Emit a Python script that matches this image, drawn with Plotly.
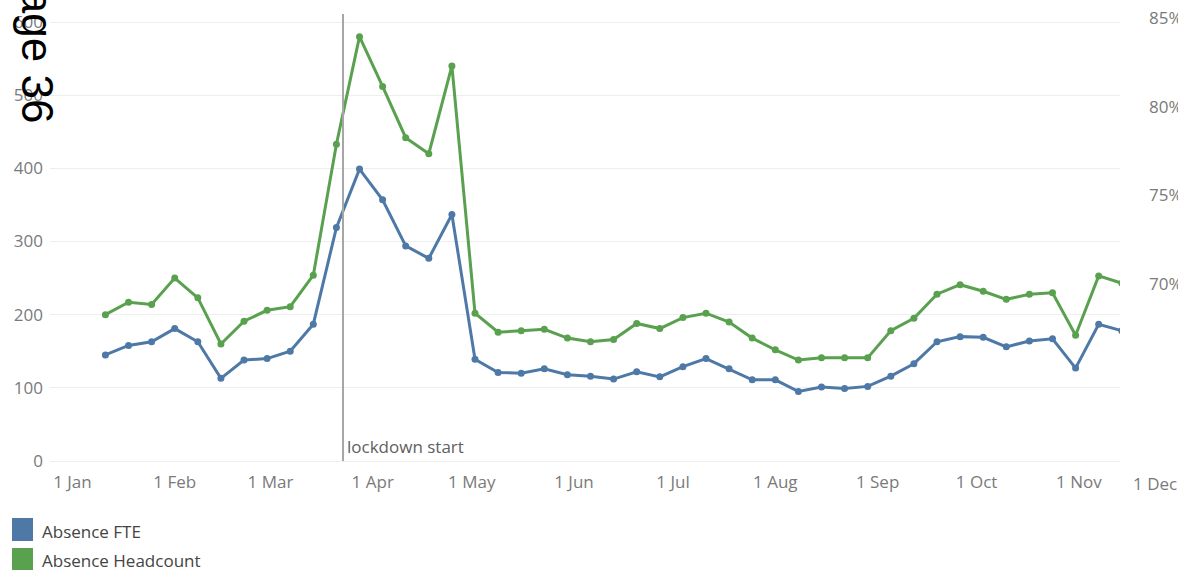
import plotly.graph_objects as go

# ---- data ----
week_dates = [
    "2020-01-11", "2020-01-18", "2020-01-25", "2020-02-01", "2020-02-08", "2020-02-15",
    "2020-02-22", "2020-02-29", "2020-03-07", "2020-03-14", "2020-03-21", "2020-03-28",
    "2020-04-04", "2020-04-11", "2020-04-18", "2020-04-25", "2020-05-02", "2020-05-09",
    "2020-05-16", "2020-05-23", "2020-05-30", "2020-06-06", "2020-06-13", "2020-06-20",
    "2020-06-27", "2020-07-04", "2020-07-11", "2020-07-18", "2020-07-25", "2020-08-01",
    "2020-08-08", "2020-08-15", "2020-08-22", "2020-08-29", "2020-09-05", "2020-09-12",
    "2020-09-19", "2020-09-26", "2020-10-03", "2020-10-10", "2020-10-17", "2020-10-24",
    "2020-10-31", "2020-11-07", "2020-11-14",
]
absence_fte = [
    145, 158, 163, 181, 163, 113, 138, 140, 150, 187,
    319, 399, 357, 294, 277, 337,
    139, 121, 120, 126, 118, 116, 112, 122, 115, 129, 140, 126, 111,
    111, 95, 101, 99, 102, 116, 133, 163, 170, 169, 156, 164, 167, 127, 187, 178,
]
absence_headcount = [
    200, 217, 214, 250, 223, 160, 191, 206, 211, 254,
    433, 580, 512, 442, 420, 540,
    202, 176, 178, 180, 168, 163, 166, 188, 181, 196, 202, 190, 168,
    152, 138, 141, 141, 141, 178, 195, 228, 241, 232, 221, 228, 230, 172, 253, 243,
]
month_ticks = ["2020-01-01", "2020-02-01", "2020-03-01", "2020-04-01", "2020-05-01", "2020-06-01",
               "2020-07-01", "2020-08-01", "2020-09-01", "2020-10-01", "2020-11-01"]
month_labels = ["1 Jan", "1 Feb", "1 Mar", "1 Apr", "1 May", "1 Jun",
                "1 Jul", "1 Aug", "1 Sep", "1 Oct", "1 Nov"]
left_ticks = [0, 100, 200, 300, 400, 500, 600]
right_ticks = [70, 75, 80, 85]
right_labels = ["70%", "75%", "80%", "85%"]
lockdown_date = "2020-03-23"

BLUE = "#4e79a7"
GREEN = "#59a14f"
TICK_COL = "#7a7a7a"
FONT = "Open Sans"
FS = 17

W, H = 1178, 570
L, R, T, B = 50, 58, 14, 109
PW, PH = W - L - R, H - T - B


def px(xp):
    return (xp - L) / PW


def py(yp):
    return (H - B - yp) / PH


fig = go.Figure()
fig.add_trace(go.Scatter(
    x=week_dates, y=absence_fte, mode="lines+markers", name="Absence FTE",
    line=dict(color=BLUE, width=3), marker=dict(color=BLUE, size=7),
))
fig.add_trace(go.Scatter(
    x=week_dates, y=absence_headcount, mode="lines+markers", name="Absence Headcount",
    line=dict(color=GREEN, width=3), marker=dict(color=GREEN, size=7),
))
# empty trace so the right-hand percentage axis is drawn
fig.add_trace(go.Scatter(x=[], y=[], yaxis="y2", showlegend=False, hoverinfo="skip"))

fig.update_layout(
    width=W, height=H,
    margin=dict(l=L, r=R, t=T, b=B, autoexpand=False),
    paper_bgcolor="white", plot_bgcolor="white",
    showlegend=False,
    font=dict(family=FONT, size=FS, color=TICK_COL),
    xaxis=dict(
        type="date", automargin=False,
        range=["2019-12-25 05:00", "2020-11-13 11:00"],
        tickvals=month_ticks, ticktext=month_labels,
        showgrid=False, zeroline=False, showline=False, ticks="",
        tickfont=dict(family=FONT, size=FS, color=TICK_COL),
        ticklabelstandoff=9,
    ),
    yaxis=dict(
        range=[0, 611], tickvals=left_ticks, automargin=False,
        showgrid=True, gridcolor="#eeeeee", gridwidth=1,
        zeroline=True, zerolinecolor="#eeeeee", zerolinewidth=1,
        showline=False, ticks="",
        tickfont=dict(family=FONT, size=FS, color=TICK_COL),
        ticklabelstandoff=6,
    ),
    yaxis2=dict(
        overlaying="y", side="right", automargin=False,
        range=[60, 85.25], tickvals=right_ticks, ticktext=right_labels,
        showgrid=False, zeroline=False, showline=False, ticks="",
        tickfont=dict(family=FONT, size=FS, color=TICK_COL),
        ticklabelstandoff=28,
    ),
)

# lockdown reference line
fig.add_shape(type="line", xref="x", yref="paper", x0=lockdown_date, x1=lockdown_date,
              y0=0, y1=1, line=dict(color="#a6a6a6", width=2))
fig.add_annotation(xref="x", yref="paper", x=lockdown_date, y=0, xanchor="left", yanchor="bottom",
                   xshift=2, yshift=1, text="lockdown start", showarrow=False,
                   font=dict(family=FONT, size=FS, color="#606060"))

# extra tick label at the right edge
fig.add_annotation(xref="paper", yref="paper", x=px(1155), y=py(483), xanchor="center", yanchor="middle",
                   text="1 Dec", showarrow=False, font=dict(family=FONT, size=FS, color=TICK_COL))

# legend
fig.add_shape(type="rect", xref="paper", yref="paper", x0=px(12), x1=px(33), y0=py(541), y1=py(518),
              line=dict(width=0), fillcolor=BLUE)
fig.add_shape(type="rect", xref="paper", yref="paper", x0=px(12), x1=px(33), y0=py(570), y1=py(548),
              line=dict(width=0), fillcolor=GREEN)
fig.add_annotation(xref="paper", yref="paper", x=px(40), y=py(531), xanchor="left", yanchor="middle",
                   text="Absence FTE", showarrow=False, font=dict(family=FONT, size=FS, color="#444444"))
fig.add_annotation(xref="paper", yref="paper", x=px(40), y=py(560), xanchor="left", yanchor="middle",
                   text="Absence Headcount", showarrow=False, font=dict(family=FONT, size=FS, color="#444444"))

# page number overlay
fig.add_annotation(xref="paper", yref="paper", x=px(37.5), y=py(41), xanchor="center", yanchor="middle",
                   text="Page 36", textangle=90, showarrow=False,
                   font=dict(family="Liberation Sans", size=44, color="black"))

fig.write_html("out.html")
